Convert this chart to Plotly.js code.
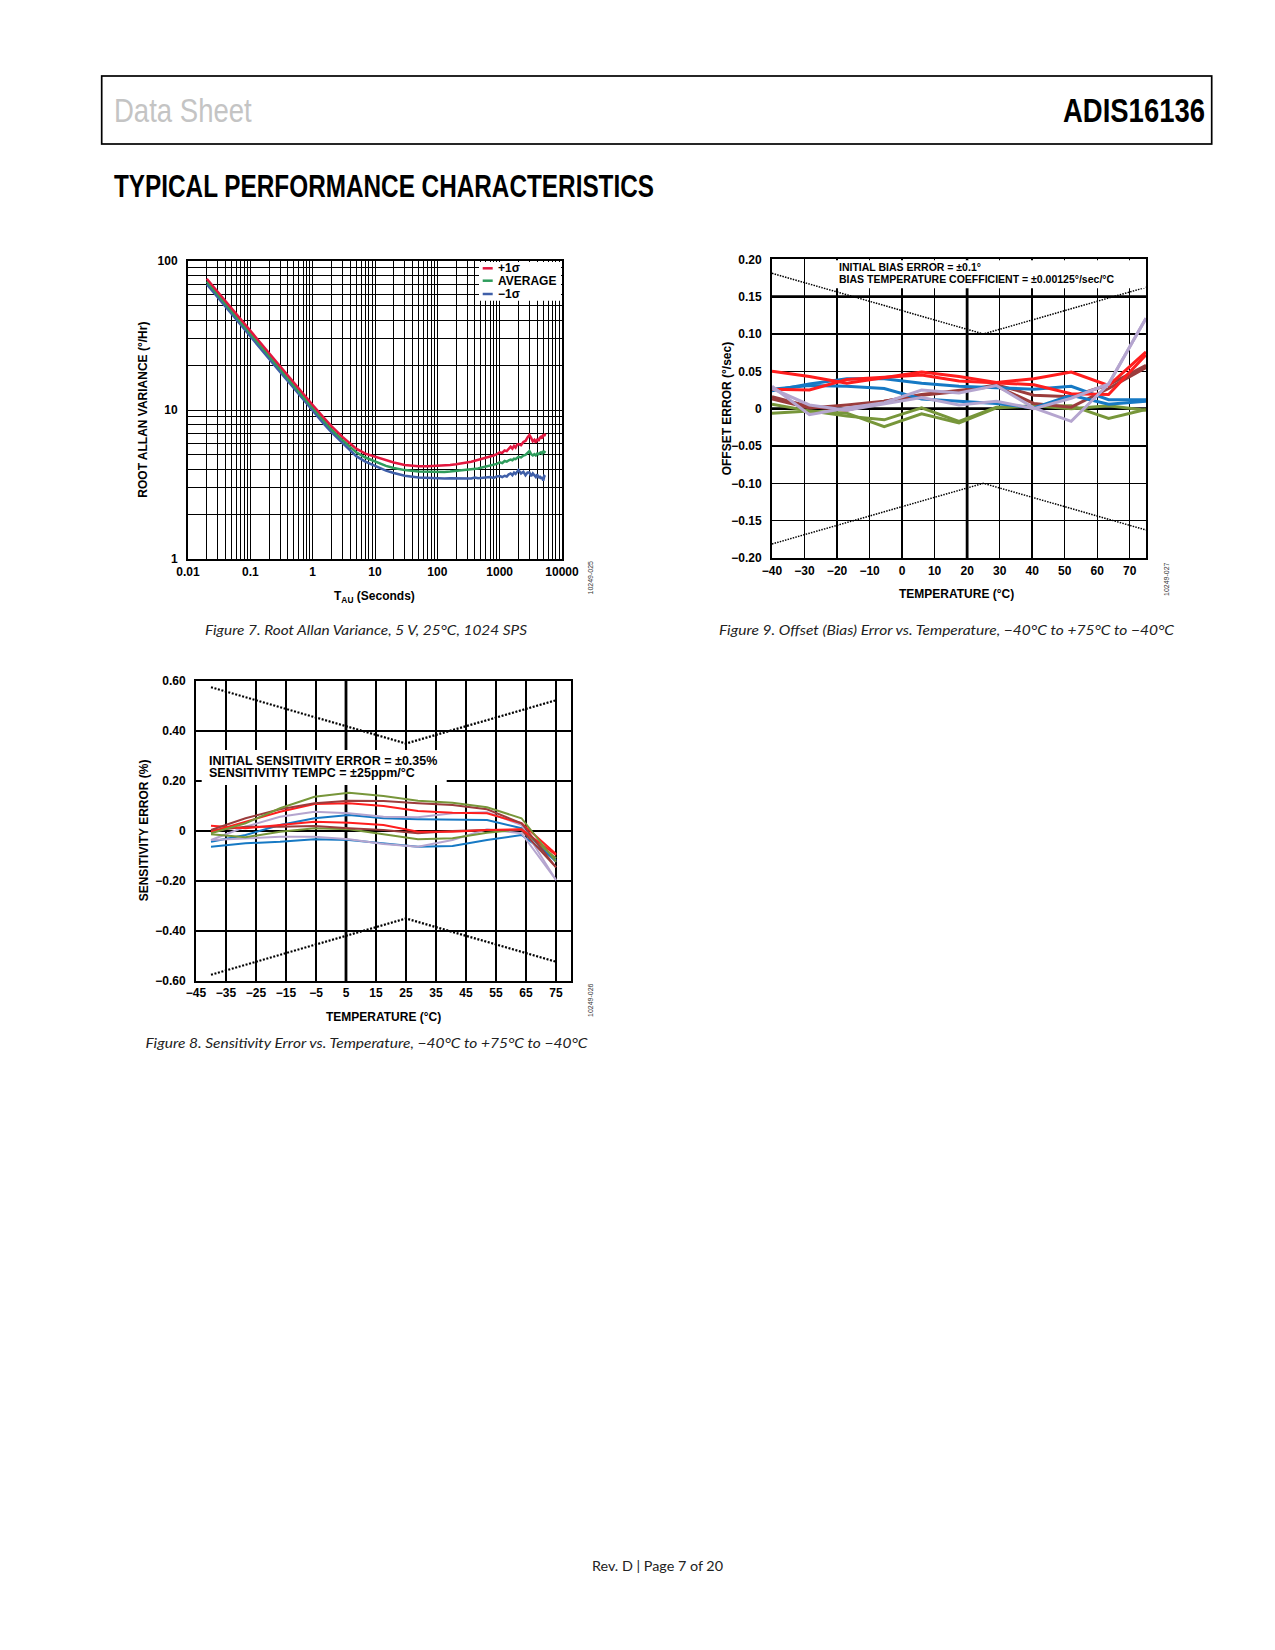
<!DOCTYPE html>
<html>
<head>
<meta charset="utf-8">
<script src="https://cdn.plot.ly/plotly-3.0.1.min.js"></script>
<style>
html,body{margin:0;padding:0;background:#fff;}
#page{position:relative;width:1275px;height:1650px;overflow:hidden;}
#plot{position:absolute;left:0;top:0;width:1275px;height:1650px;}
#furniture{position:absolute;left:0;top:0;pointer-events:none;}
</style>
</head>
<body>
<div id="page">
<div id="plot"></div>
<svg id="furniture" width="1275" height="1650" xmlns="http://www.w3.org/2000/svg">
  <rect x="101.7" y="76" width="1110" height="68" fill="none" stroke="#000" stroke-width="1.7"/>
  <text x="114" y="121.7" font-family="Liberation Sans, Arial, sans-serif" font-size="32.5" fill="#c4c4c4" textLength="137.7" lengthAdjust="spacingAndGlyphs">Data Sheet</text>
  <text x="1063" y="121.7" font-family="Liberation Sans, Arial, sans-serif" font-weight="bold" font-size="32.5" fill="#000" textLength="142" lengthAdjust="spacingAndGlyphs">ADIS16136</text>
  <text x="114" y="197" font-family="Liberation Sans, Arial, sans-serif" font-weight="bold" font-size="31" fill="#000" textLength="540" lengthAdjust="spacingAndGlyphs">TYPICAL PERFORMANCE CHARACTERISTICS</text>
  <text x="205" y="634.5" font-family="Lato, Open Sans, sans-serif" font-style="italic" font-size="14" fill="#222" textLength="322" lengthAdjust="spacingAndGlyphs">Figure 7. Root Allan Variance, 5 V, 25°C, 1024 SPS</text>
  <text x="719" y="634.5" font-family="Lato, Open Sans, sans-serif" font-style="italic" font-size="14" fill="#222" textLength="455" lengthAdjust="spacingAndGlyphs">Figure 9. Offset (Bias) Error vs. Temperature, −40°C to +75°C to −40°C</text>
  <text x="145.5" y="1047.5" font-family="Lato, Open Sans, sans-serif" font-style="italic" font-size="14" fill="#222" textLength="442" lengthAdjust="spacingAndGlyphs">Figure 8. Sensitivity Error vs. Temperature, −40°C to +75°C to −40°C</text>
  <text x="592" y="1570.5" font-family="Lato, Open Sans, sans-serif" font-size="13" fill="#222" textLength="131" lengthAdjust="spacingAndGlyphs">Rev. D | Page 7 of 20</text>
</svg>
</div>
<script>
// ---------------- Figure 7: Root Allan variance ----------------
const TAU = [0.02, 0.03, 0.05, 0.07, 0.1, 0.15, 0.2, 0.3, 0.5, 0.7, 1, 1.5, 2, 3, 5, 7, 10, 15, 20, 30, 50, 70, 100,
  130, 160, 200, 250, 300, 350, 400, 450, 500, 600, 700, 800, 900, 1000, 1100, 1200, 1300, 1400, 1500, 1600, 1700,
  1800, 1900, 2000, 2200, 2400, 2600, 2800, 3000, 3200, 3400, 3600, 3800, 4000, 4200, 4400, 4600, 4800, 5000, 5200, 5400];
const RAV_PLUS1 = [76, 62, 48, 40.5, 34, 27.8, 24, 19.6, 15.2, 12.9, 10.8, 8.9, 7.8, 6.6, 5.5, 5.1, 4.87, 4.6, 4.44, 4.28, 4.19, 4.2, 4.22,
  4.25, 4.28, 4.33, 4.38, 4.44, 4.5, 4.56, 4.62, 4.70, 4.78, 4.87, 4.95, 5.05, 5.2, 5.15, 5.35, 5.3, 5.55, 5.68, 5.5, 5.75,
  5.6, 5.85, 5.9, 5.8, 6.1, 6.2, 6.55, 6.8, 6.5, 6.15, 6.3, 6.05, 6.4, 6.2, 6.5, 6.6, 6.45, 6.85, 6.7, 6.95];
const RAV_AVG = [73, 59.5, 46, 39, 32.6, 26.6, 23, 18.8, 14.6, 12.3, 10.35, 8.5, 7.4, 6.3, 5.2, 4.8, 4.52, 4.22, 4.08, 3.95, 3.86, 3.84, 3.83,
  3.84, 3.86, 3.9, 3.92, 3.95, 3.98, 4.0, 4.05, 4.1, 4.17, 4.25, 4.3, 4.35, 4.45, 4.4, 4.55, 4.5, 4.6, 4.65, 4.6, 4.72,
  4.68, 4.8, 4.85, 4.8, 4.95, 5.0, 5.15, 5.3, 5.05, 4.95, 5.05, 4.95, 5.1, 5.05, 5.15, 5.2, 5.1, 5.25, 5.2, 5.3];
const RAV_MINUS1 = [70, 57, 44.2, 37.4, 31.3, 25.5, 22, 18, 14, 11.8, 9.9, 8.1, 7.1, 6.0, 4.9, 4.5, 4.2, 3.92, 3.78, 3.62, 3.52, 3.49, 3.47,
  3.47, 3.48, 3.48, 3.5, 3.5, 3.47, 3.52, 3.48, 3.5, 3.53, 3.55, 3.5, 3.58, 3.6, 3.55, 3.62, 3.58, 3.7, 3.75, 3.65, 3.8,
  3.72, 3.88, 3.95, 3.75, 3.85, 3.65, 3.8, 3.8, 3.6, 3.75, 3.65, 3.55, 3.7, 3.5, 3.6, 3.45, 3.55, 3.35, 3.6, 3.55];
const X7_TICKS = [0.01, 0.1, 1, 10, 100, 1000, 10000];
const X7_LABELS = ['0.01', '0.1', '1', '10', '100', '1000', '10000'];
const Y7_TICKS = [1, 10, 100];
const Y7_LABELS = ['1', '10', '100'];
const LOG_MINOR_STEPS = [2, 3, 4, 5, 6, 7, 8, 9];
const LEGEND7 = ['+1σ', 'AVERAGE', '−1σ'];

// ---------------- Figure 9: Offset error vs temperature ----------------
const TEMP9 = [-40, -28.5, -17, -5.5, 6, 17.5, 29, 40.5, 52, 63.5, 75];
const OFS_RED_A   = [0.050, 0.043, 0.034, 0.042, 0.049, 0.043, 0.035, 0.040, 0.049, 0.031, 0.076];
const OFS_RED_B   = [0.026, 0.025, 0.039, 0.042, 0.045, 0.037, 0.034, 0.032, 0.020, 0.019, 0.072];
const OFS_BLUE_A  = [0.024, 0.033, 0.040, 0.040, 0.034, 0.030, 0.028, 0.026, 0.030, 0.012, 0.012];
const OFS_BLUE_B  = [0.026, 0.031, 0.030, 0.027, 0.013, 0.010, 0.007, 0.001, 0.018, 0.006, 0.010];
const OFS_BROWN_A = [0.016, 0.003, -0.002, 0.010, 0.018, 0.023, 0.032, 0.018, 0.016, 0.032, 0.058];
const OFS_BROWN_B = [0.013, 0.001, 0.005, 0.010, 0.019, 0.025, 0.030, 0.007, 0.002, 0.027, 0.055];
const OFS_GREEN_A = [0.006, -0.003, -0.010, -0.015, 0.001, -0.017, 0.002, 0.003, 0.004, -0.013, -0.001];
const OFS_GREEN_B = [-0.006, -0.003, -0.006, -0.024, -0.007, -0.019, 0.001, 0.004, 0.000, 0.004, -0.002];
const OFS_LAV_A   = [0.030, -0.008, 0.001, 0.008, 0.025, 0.021, 0.031, 0.001, -0.017, 0.033, 0.121];
const OFS_LAV_B   = [0.027, 0.005, -0.002, 0.007, 0.015, 0.005, 0.010, 0.000, 0.014, 0.033, 0.121];
const LIMIT9_T = [-40, 25, 75];
const LIMIT9_UP = [0.18125, 0.10, 0.1625];
const LIMIT9_DN = [-0.18125, -0.10, -0.1625];
const X9_TICKS = [-40, -30, -20, -10, 0, 10, 20, 30, 40, 50, 60, 70];
const X9_LABELS = ['−40', '−30', '−20', '−10', '0', '10', '20', '30', '40', '50', '60', '70'];
const Y9_TICKS = [-0.20, -0.15, -0.10, -0.05, 0, 0.05, 0.10, 0.15, 0.20];
const Y9_LABELS = ['−0.20', '−0.15', '−0.10', '−0.05', '0', '0.05', '0.10', '0.15', '0.20'];

// ---------------- Figure 8: Sensitivity error vs temperature ----------------
const TEMP8 = [-40, -28.5, -17, -5.5, 6, 17.5, 29, 40.5, 52, 63.5, 75];
const SENS_GREEN_A = [-0.009, 0.031, 0.091, 0.137, 0.153, 0.140, 0.121, 0.113, 0.095, 0.051, -0.123];
const SENS_BROWN_A = [0.004, 0.051, 0.087, 0.111, 0.121, 0.120, 0.111, 0.104, 0.087, 0.031, -0.145];
const SENS_RED_A   = [-0.003, 0.037, 0.077, 0.108, 0.111, 0.100, 0.080, 0.073, 0.071, 0.031, -0.092];
const SENS_LAV_A   = [-0.036, 0.017, 0.057, 0.077, 0.071, 0.057, 0.055, 0.071, 0.075, 0.024, -0.196];
const SENS_BLUE_A  = [-0.043, -0.016, 0.024, 0.051, 0.064, 0.051, 0.047, 0.044, 0.044, 0.011, -0.123];
const SENS_RED_B   = [0.021, 0.011, 0.024, 0.037, 0.033, 0.024, -0.003, -0.003, 0.004, 0.007, -0.096];
const SENS_BROWN_B = [0.001, 0.017, 0.017, 0.020, 0.011, 0.004, -0.009, 0.000, 0.004, 0.004, -0.145];
const SENS_GREEN_B = [-0.013, -0.025, -0.003, 0.011, 0.007, -0.012, -0.033, -0.029, -0.007, 0.007, -0.109];
const SENS_LAV_B   = [-0.036, -0.029, -0.023, -0.023, -0.033, -0.052, -0.063, -0.036, 0.007, -0.009, -0.196];
const SENS_BLUE_B  = [-0.063, -0.049, -0.043, -0.033, -0.036, -0.049, -0.063, -0.060, -0.036, -0.016, -0.116];
const LIMIT8_T = [-40, 25, 75];
const LIMIT8_UP = [0.575, 0.35, 0.523];
const LIMIT8_DN = [-0.575, -0.35, -0.523];
const X8_TICKS = [-45, -35, -25, -15, -5, 5, 15, 25, 35, 45, 55, 65, 75];
const X8_LABELS = ['−45', '−35', '−25', '−15', '−5', '5', '15', '25', '35', '45', '55', '65', '75'];
const Y8_TICKS = [-0.6, -0.4, -0.2, 0, 0.2, 0.4, 0.6];
const Y8_LABELS = ['−0.60', '−0.40', '−0.20', '0', '0.20', '0.40', '0.60'];

// ---------------- helpers ----------------
const W = 1275, H = 1650;
const PX = v => v / W;
const PY = v => 1 - v / H;
const FONT = 'Liberation Sans, Arial, Helvetica, sans-serif';
const TICKFONT = {family: FONT, size: 12, color: '#000', weight: 'bold'};

// minor grid positions of a log axis: 2..9 times each labelled decade (except the last)
function minorLog(decades) {
  const out = [];
  decades.slice(0, -1).forEach(d => LOG_MINOR_STEPS.forEach(m => out.push(+(d * m).toPrecision(3))));
  return out;
}

const C7 = {red: '#e3173f', green: '#2e9c5c', blue: '#3f5fa8'};
const C = {red: '#ff1e1e', blue: '#1679c4', brown: '#9b3c3c', green: '#77963a', lav: '#b5a5cf'};

function line(x, y, xa, ya, color, width, dash) {
  return {x, y, xaxis: xa, yaxis: ya, type: 'scatter', mode: 'lines', hoverinfo: 'skip',
    line: {color, width, dash: dash || 'solid'}};
}

const traces = [
  line(TAU, RAV_MINUS1, 'x', 'y', C7.blue, 2.5),
  line(TAU, RAV_AVG, 'x', 'y', C7.green, 2.5),
  line(TAU, RAV_PLUS1, 'x', 'y', C7.red, 2.5),

  line(LIMIT9_T, LIMIT9_UP, 'x2', 'y2', '#000', 1.5, '1.5px,1.2px'),
  line(LIMIT9_T, LIMIT9_DN, 'x2', 'y2', '#000', 1.5, '1.5px,1.2px'),
  line(TEMP9, OFS_GREEN_A, 'x2', 'y2', C.green, 3),
  line(TEMP9, OFS_GREEN_B, 'x2', 'y2', C.green, 3),
  line(TEMP9, OFS_BROWN_A, 'x2', 'y2', C.brown, 3),
  line(TEMP9, OFS_BROWN_B, 'x2', 'y2', C.brown, 3),
  line(TEMP9, OFS_BLUE_A, 'x2', 'y2', C.blue, 3),
  line(TEMP9, OFS_BLUE_B, 'x2', 'y2', C.blue, 3),
  line(TEMP9, OFS_RED_A, 'x2', 'y2', C.red, 3),
  line(TEMP9, OFS_RED_B, 'x2', 'y2', C.red, 3),
  line(TEMP9, OFS_LAV_A, 'x2', 'y2', C.lav, 3),
  line(TEMP9, OFS_LAV_B, 'x2', 'y2', C.lav, 3),

  line(LIMIT8_T, LIMIT8_UP, 'x3', 'y3', '#000', 2.2, '2px,1.6px'),
  line(LIMIT8_T, LIMIT8_DN, 'x3', 'y3', '#000', 2.2, '2px,1.6px'),
  line(TEMP8, SENS_BLUE_B, 'x3', 'y3', C.blue, 2),
  line(TEMP8, SENS_BLUE_A, 'x3', 'y3', C.blue, 2),
  line(TEMP8, SENS_LAV_B, 'x3', 'y3', C.lav, 2),
  line(TEMP8, SENS_LAV_A, 'x3', 'y3', C.lav, 2),
  line(TEMP8, SENS_GREEN_B, 'x3', 'y3', C.green, 2),
  line(TEMP8, SENS_BROWN_B, 'x3', 'y3', C.brown, 2),
  line(TEMP8, SENS_RED_B, 'x3', 'y3', C.red, 2),
  line(TEMP8, SENS_RED_A, 'x3', 'y3', C.red, 2),
  line(TEMP8, SENS_BROWN_A, 'x3', 'y3', C.brown, 2),
  line(TEMP8, SENS_GREEN_A, 'x3', 'y3', C.green, 2)
];

function axisBase(extra) {
  return Object.assign({showgrid: true, gridcolor: '#000', zeroline: false, showline: true, mirror: true,
    linecolor: '#000', linewidth: 2, ticks: '', tickfont: TICKFONT, fixedrange: true, tickmode: 'array'}, extra);
}

function ann(text, x, y, opts) {
  return Object.assign({text, x: PX(x), y: PY(y), xref: 'paper', yref: 'paper', showarrow: false,
    xanchor: 'center', yanchor: 'middle', font: {family: FONT, size: 12, color: '#000', weight: 'bold'}}, opts || {});
}

const annotations = [
  // Figure 7
  ann('ROOT ALLAN VARIANCE (°/Hr)', 142.7, 410, {textangle: -90}),
  ann('T<sub>AU</sub> (Seconds)', 374, 597),
  ann(LEGEND7[0], 496, 268.3, {xanchor: 'left'}),
  ann(LEGEND7[1], 496, 280.7, {xanchor: 'left'}),
  ann(LEGEND7[2], 496, 294, {xanchor: 'left'}),
  ann('10249-025', 589.5, 578, {textangle: -90, font: {family: FONT, size: 7, color: '#333'}}),
  // Figure 9
  ann('OFFSET ERROR (°/sec)', 727.3, 409, {textangle: -90}),
  ann('TEMPERATURE (°C)', 956, 594),
  ann('INITIAL BIAS ERROR = ±0.1°', 836.7, 267.3, {xanchor: 'left', font: {family: FONT, size: 10.5, color: '#000', weight: 'bold'}}),
  ann('BIAS TEMPERATURE COEFFICIENT = ±0.00125°/sec/°C', 836.7, 279, {xanchor: 'left', font: {family: FONT, size: 10.5, color: '#000', weight: 'bold'}}),
  ann('10249-027', 1167, 579, {textangle: -90, font: {family: FONT, size: 7, color: '#333'}}),
  // Figure 8
  ann('SENSITIVITY ERROR (%)', 144.3, 830, {textangle: -90}),
  ann('TEMPERATURE (°C)', 383, 1017),
  ann('INITIAL SENSITIVITY ERROR = ±0.35%', 206.7, 761, {xanchor: 'left', font: {family: FONT, size: 12.5, color: '#000', weight: 'bold'}}),
  ann('SENSITIVITIY TEMPC = ±25ppm/°C', 206.7, 773.3, {xanchor: 'left', font: {family: FONT, size: 12.5, color: '#000', weight: 'bold'}}),
  ann('10249-026', 590, 1000, {textangle: -90, font: {family: FONT, size: 7, color: '#333'}})
];

function paperRect(x0, y0, x1, y1) {
  return {type: 'rect', xref: 'paper', yref: 'paper', x0: PX(x0), x1: PX(x1), y0: PY(y1), y1: PY(y0),
    fillcolor: '#fff', line: {width: 0}, layer: 'above'};
}
function paperLine(x0, y, x1, color) {
  return {type: 'line', xref: 'paper', yref: 'paper', x0: PX(x0), x1: PX(x1), y0: PY(y), y1: PY(y),
    line: {color, width: 2.5}, layer: 'above'};
}

const shapes = [
  // Figure 7 legend box and samples
  paperRect(479, 262, 561, 300.7),
  paperLine(482.7, 268.3, 492.7, C7.red),
  paperLine(482.7, 280.7, 492.7, C7.green),
  paperLine(482.7, 294, 492.7, C7.blue),
  // Figure 9 heavy reference lines and note box
  {type: 'line', xref: 'x2', yref: 'y2', x0: 20, x1: 20, y0: -0.2, y1: 0.2, line: {color: '#000', width: 2.8}, layer: 'below'},
  {type: 'line', xref: 'x2', yref: 'y2', x0: -40, x1: 75, y0: 0.15, y1: 0.15, line: {color: '#000', width: 2.8}, layer: 'below'},
  {type: 'line', xref: 'x2', yref: 'y2', x0: -40, x1: 75, y0: 0, y1: 0, line: {color: '#000', width: 2.8}, layer: 'below'},
  paperRect(833, 260.2, 1145, 288.3),
  // Figure 8 heavy line and note box
  {type: 'line', xref: 'x3', yref: 'y3', x0: 5, x1: 5, y0: -0.6, y1: 0.6, line: {color: '#000', width: 2.8}, layer: 'below'},
  paperRect(201.7, 750, 446.7, 785)
];

const MINOR7 = {color: '#000', width: 1};
const layout = {
  width: W, height: H, margin: {l: 0, r: 0, t: 0, b: 0, pad: 0},
  paper_bgcolor: 'rgba(0,0,0,0)', plot_bgcolor: '#fff', showlegend: false,
  font: {family: FONT, color: '#000'},
  xaxis: axisBase({domain: [PX(188), PX(562)], type: 'log', range: [-2, 4], tickvals: X7_TICKS, ticktext: X7_LABELS,
    gridwidth: 1, anchor: 'y', ticklabelstandoff: 1,
    minor: {tickmode: 'array', tickvals: minorLog(X7_TICKS), showgrid: true, gridcolor: MINOR7.color, gridwidth: MINOR7.width, ticks: ''}}),
  yaxis: axisBase({domain: [PY(559), PY(261)], type: 'log', range: [0, 2], tickvals: Y7_TICKS, ticktext: Y7_LABELS,
    gridwidth: 1, anchor: 'x', ticklabelstandoff: 6,
    minor: {tickmode: 'array', tickvals: minorLog(Y7_TICKS), showgrid: true, gridcolor: MINOR7.color, gridwidth: MINOR7.width, ticks: ''}}),
  xaxis2: axisBase({domain: [PX(772), PX(1146)], range: [-40, 75], tickvals: X9_TICKS, ticktext: X9_LABELS,
    gridwidth: 1.4, anchor: 'y2', ticklabelstandoff: 1}),
  yaxis2: axisBase({domain: [PY(558), PY(259.3)], range: [-0.2, 0.2], tickvals: Y9_TICKS, ticktext: Y9_LABELS,
    gridwidth: 1.4, anchor: 'x2', ticklabelstandoff: 6}),
  xaxis3: axisBase({domain: [PX(196), PX(571)], range: [-45, 80], tickvals: X8_TICKS, ticktext: X8_LABELS,
    gridwidth: 1.4, anchor: 'y3', ticklabelstandoff: 0}),
  yaxis3: axisBase({domain: [PY(981), PY(681)], range: [-0.6, 0.6], tickvals: Y8_TICKS, ticktext: Y8_LABELS,
    gridwidth: 1.4, anchor: 'x3', ticklabelstandoff: 6}),
  annotations, shapes
};

Plotly.newPlot('plot', traces, layout, {staticPlot: true, displayModeBar: false});
</script>
</body>
</html>
